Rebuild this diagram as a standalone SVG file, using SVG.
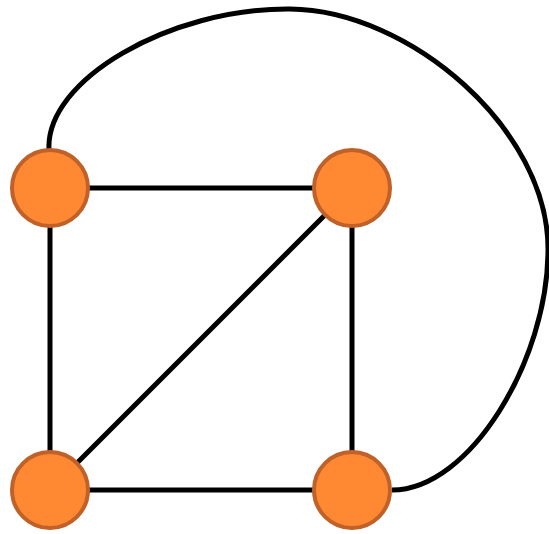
<svg xmlns="http://www.w3.org/2000/svg" width="549" height="534" viewBox="0 0 549 534">
<style>
.e{stroke:#000;stroke-width:5;fill:none}
.n{fill:#FF8833;stroke:#BF6128;stroke-width:4}
</style>
<rect width="549" height="534" fill="#fff"/>
<g id="connectors">
<line class="e" x1="50" y1="188" x2="352" y2="188"/>
<line class="e" x1="50" y1="188" x2="50" y2="490"/>
<line class="e" x1="50" y1="490" x2="352" y2="490"/>
<line class="e" x1="352" y1="188" x2="352" y2="490"/>
<line class="e" x1="352" y1="188" x2="50" y2="490"/>
<path class="e" d="M49,150 C45,80 170,8 290,9 C410,10 549,130 548,250 C548,360 470,490 392,490"/>
</g>
<g id="n1"><circle class="n" cx="50" cy="188" r="38"/></g>
<g id="n2"><circle class="n" cx="352" cy="188" r="38"/></g>
<g id="n3"><circle class="n" cx="50" cy="490" r="38"/></g>
<g id="n4"><circle class="n" cx="352" cy="490" r="38"/></g>
</svg>
